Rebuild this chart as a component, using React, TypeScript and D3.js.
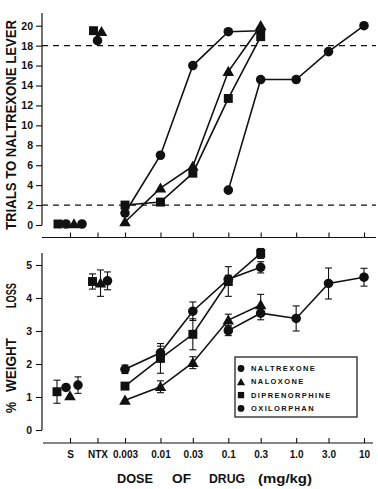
import React, { useEffect, useRef } from "react";
import * as d3 from "d3";

const W = 378;
const H = 489;

// drugs, in legend order
const drugNames = ["NALTREXONE", "NALOXONE", "DIPRENORPHINE", "OXILORPHAN"];
const drugMarkers = ["circle", "triangle", "square", "circle"];

// x axis categories
const tickLabels = ["S", "NTX", "0.003", "0.01", "0.03", "0.1", "0.3", "1.0", "3.0", "10"];
const doseLow = [0.003, 0.01, 0.03, 0.1, 0.3];
const doseHigh = [0.1, 0.3, 1, 3, 10];

// top panel: trials to naltrexone lever
const trialCriteria = [2, 18];
const trialsSaline = [0.1, 0.1, 0.1, 0.1];
const trialsNtx = [18.5, 19.4, 19.5, null];
const naltrexoneTrials = [1.2, 7.0, 16.0, 19.4, 19.5];
const naloxoneTrials = [0.3, 3.7, 5.9, 15.4, 20.0];
const diprenorphineTrials = [2.0, 2.3, 5.2, 12.7, 18.9];
const oxilorphanTrials = [3.5, 14.6, 14.6, 17.4, 20.0];

// bottom panel: % weight loss (mean, sem)
const weightSaline = [1.29, 1.03, 1.16, 1.36];
const weightSalineErr = [0, 0, 0.35, 0.25];
const weightNtx = [4.52, 4.45, 4.5, null];
const weightNtxErr = [0.27, 0.4, 0.23, 0];
const naltrexoneWeight = [1.84, 2.34, 3.6, 4.57, 4.93];
const naltrexoneWeightErr = [0.13, 0.2, 0.28, 0.12, 0.17];
const naloxoneWeight = [0.9, 1.31, 2.04, 3.33, 3.79];
const naloxoneWeightErr = [0, 0.18, 0.18, 0.18, 0.32];
const diprenorphineWeight = [1.33, 2.17, 2.9, 4.5, 5.35];
const diprenorphineWeightErr = [0, 0.45, 0.47, 0.45, 0.15];
const oxilorphanWeight = [3.01, 3.54, 3.38, 4.44, 4.63];
const oxilorphanWeightErr = [0.15, 0.2, 0.38, 0.47, 0.27];

const FONT = "'Liberation Sans', Arial, Helvetica, sans-serif";

const App = () => {
  const ref = useRef<SVGSVGElement>(null);

  useEffect(() => {
    const svg = d3.select(ref.current);
    svg.selectAll("*").remove();

    const xLog = d3.scaleLog().domain([0.003, 10]).range([125, 364]);
    const xCtrl = d3.scalePoint<string>().domain(["S", "NTX", "0.003"]).range([70, 125]);
    const xPos = (lab: string) =>
      lab === "S" || lab === "NTX" ? (xCtrl(lab) as number) : xLog(+lab);
    const xOrd = d3.scaleOrdinal<string, number>(tickLabels, tickLabels.map(xPos));

    const yTrials = d3.scaleLinear().domain([0, 20]).range([225, 25.7]);
    const yWeight = d3.scaleLinear().domain([0, 5]).range([430, 265]);

    const symbolType: any = {
      circle: d3.symbolCircle,
      square: d3.symbolSquare,
      triangle: d3.symbolTriangle,
    };
    const symbolSize: any = { circle: 72, square: 80, triangle: 58 };

    const marker = (g: any, shape: string, cx: number, cy: number, scale = 1) => {
      const dy = shape === "triangle" ? 1 : 0;
      g.append("path")
        .attr("d", d3.symbol(symbolType[shape], symbolSize[shape] * scale)())
        .attr("transform", `translate(${cx},${cy + dy})`)
        .attr("fill", "#111");
    };

    const line = d3.line<[number, number]>().x(d => d[0]).y(d => d[1]);

    const errBar = (g: any, cx: number, y0: number, y1: number) => {
      g.append("line").attr("x1", cx).attr("x2", cx).attr("y1", y0).attr("y2", y1)
        .attr("stroke", "#111").attr("stroke-width", 1.1);
      [y0, y1].forEach(y =>
        g.append("line").attr("x1", cx - 3.5).attr("x2", cx + 3.5).attr("y1", y).attr("y2", y)
          .attr("stroke", "#111").attr("stroke-width", 1.1));
    };

    // ---------- axes ----------
    const axisFont = (g: any, size: number) =>
      g.attr("font-family", FONT).attr("font-size", size).attr("font-weight", "bold");

    // top y axis
    const gyTop = svg.append("g").attr("transform", "translate(42,0)")
      .call(d3.axisLeft(yTrials).tickValues(d3.range(0, 21, 2)).tickSize(6).tickPadding(3));
    gyTop.select(".domain").remove();
    axisFont(gyTop, 10.5);
    svg.append("line").attr("x1", 42).attr("x2", 42).attr("y1", 13).attr("y2", 225)
      .attr("stroke", "#111").attr("stroke-width", 1.2);

    // bottom y axis
    const gyBot = svg.append("g").attr("transform", "translate(42,0)")
      .call(d3.axisLeft(yWeight).tickValues(d3.range(0, 6)).tickFormat(d3.format("d"))
        .tickSize(6).tickPadding(4));
    gyBot.select(".domain").remove();
    axisFont(gyBot, 10.5);
    svg.append("line").attr("x1", 42).attr("x2", 42).attr("y1", 253).attr("y2", 430)
      .attr("stroke", "#111").attr("stroke-width", 1.2);

    // top x axis (ticks only)
    const gxTop = svg.append("g").attr("transform", "translate(0,237.5)")
      .call(d3.axisBottom(xOrd).tickSize(-5).tickFormat(() => ""));
    gxTop.select(".domain").remove();
    svg.append("line").attr("x1", 42).attr("x2", 376).attr("y1", 237.5).attr("y2", 237.5)
      .attr("stroke", "#111").attr("stroke-width", 1.2);

    // bottom x axis
    const gxBot = svg.append("g").attr("transform", "translate(0,443)")
      .call(d3.axisBottom(xOrd).tickSize(-5).tickPadding(8));
    gxBot.select(".domain").remove();
    axisFont(gxBot, 10);
    svg.append("line").attr("x1", 43).attr("x2", 373).attr("y1", 443).attr("y2", 443)
      .attr("stroke", "#111").attr("stroke-width", 1.2);

    svg.selectAll(".tick line").attr("stroke", "#111").attr("stroke-width", 1.1);
    svg.selectAll(".tick text").attr("fill", "#111");

    // ---------- titles ----------
    svg.append("text")
      .attr("transform", "translate(16,125) rotate(-90)")
      .attr("text-anchor", "middle")
      .attr("font-family", FONT).attr("font-size", 14).attr("font-weight", "bold")
      .attr("textLength", 210).attr("lengthAdjust", "spacingAndGlyphs")
      .attr("fill", "#111")
      .text("TRIALS TO NALTREXONE LEVER");

    const wt = svg.append("text")
      .attr("transform", "translate(15.5,0) rotate(-90)")
      .attr("font-family", FONT).attr("font-size", 14).attr("font-weight", "bold")
      .attr("fill", "#111");
    [["%", -413, 11], ["WEIGHT", -392, 54], ["LOSS", -308, 25]].forEach(([t, x, len]) =>
      wt.append("tspan").attr("x", x).attr("textLength", len)
        .attr("lengthAdjust", "spacingAndGlyphs").text(t as string));

    const xt = svg.append("text")
      .attr("y", 483)
      .attr("font-family", FONT).attr("font-size", 13).attr("font-weight", "bold")
      .attr("fill", "#111");
    [["DOSE", 117, 36], ["OF", 172, 19], ["DRUG", 209, 36], ["(mg/kg)", 258, 54]].forEach(([t, x, len]) =>
      xt.append("tspan").attr("x", x).attr("textLength", len)
        .attr("lengthAdjust", "spacingAndGlyphs").text(t as string));

    // ---------- top panel ----------
    const top = svg.append("g");
    trialCriteria.forEach(v =>
      top.append("line").attr("x1", 42).attr("x2", 376)
        .attr("y1", yTrials(v)).attr("y2", yTrials(v))
        .attr("stroke", "#111").attr("stroke-width", 1.2).attr("stroke-dasharray", "6,5"));

    const trialSeries = [
      { i: 0, x: doseLow, y: naltrexoneTrials },
      { i: 1, x: doseLow, y: naloxoneTrials },
      { i: 2, x: doseLow, y: diprenorphineTrials },
      { i: 3, x: doseHigh, y: oxilorphanTrials },
    ];
    trialSeries.forEach(s => {
      const pts = s.x.map((d, k) => [xLog(d), yTrials(s.y[k])] as [number, number]);
      top.append("path").attr("d", line(pts)).attr("fill", "none")
        .attr("stroke", "#111").attr("stroke-width", 1.6);
    });
    trialSeries.forEach(s => {
      s.x.forEach((d, k) => marker(top, drugMarkers[s.i], xLog(d), yTrials(s.y[k])));
    });
    const topSalineOff = [-4, 4, -12, 12];
    const topNtxOff = [0, 4, -4, 0];
    trialsSaline.forEach((v, i) => marker(top, drugMarkers[i], xPos("S") + topSalineOff[i], yTrials(v)));
    trialsNtx.forEach((v, i) => {
      if (v != null) marker(top, drugMarkers[i], xPos("NTX") + topNtxOff[i], yTrials(v));
    });

    // ---------- bottom panel ----------
    const bot = svg.append("g");
    const weightSeries = [
      { i: 0, x: doseLow, y: naltrexoneWeight, e: naltrexoneWeightErr },
      { i: 1, x: doseLow, y: naloxoneWeight, e: naloxoneWeightErr },
      { i: 2, x: doseLow, y: diprenorphineWeight, e: diprenorphineWeightErr },
      { i: 3, x: doseHigh, y: oxilorphanWeight, e: oxilorphanWeightErr },
    ];
    weightSeries.forEach(s => {
      const pts = s.x.map((d, k) => [xLog(d), yWeight(s.y[k])] as [number, number]);
      bot.append("path").attr("d", line(pts)).attr("fill", "none")
        .attr("stroke", "#111").attr("stroke-width", 1.6);
    });
    weightSeries.forEach(s => {
      s.x.forEach((d, k) => {
        if (s.e[k] > 0) errBar(bot, xLog(d), yWeight(s.y[k] + s.e[k]), yWeight(s.y[k] - s.e[k]));
      });
    });
    weightSeries.forEach(s => {
      s.x.forEach((d, k) => marker(bot, drugMarkers[s.i], xLog(d), yWeight(s.y[k])));
    });
    const botSalineOff = [-4, 0, -13, 8];
    const botNtxOff = [10, 3, -5, 0];
    weightSaline.forEach((v, i) => {
      const cx = xPos("S") + botSalineOff[i];
      if (weightSalineErr[i] > 0) errBar(bot, cx, yWeight(v + weightSalineErr[i]), yWeight(v - weightSalineErr[i]));
      marker(bot, drugMarkers[i], cx, yWeight(v));
    });
    weightNtx.forEach((v, i) => {
      if (v == null) return;
      const cx = xPos("NTX") + botNtxOff[i];
      if (weightNtxErr[i] > 0) errBar(bot, cx, yWeight(v + weightNtxErr[i]), yWeight(v - weightNtxErr[i]));
      marker(bot, drugMarkers[i], cx, yWeight(v));
    });

    // ---------- legend ----------
    const lg = svg.append("g");
    lg.append("rect").attr("x", 235).attr("y", 357).attr("width", 122).attr("height", 60)
      .attr("fill", "white").attr("stroke", "#111").attr("stroke-width", 1.2);
    drugNames.forEach((name, i) => {
      const y = 368.5 + i * 13.3;
      marker(lg, drugMarkers[i], 241, y, 0.5);
      lg.append("text").attr("x", 251).attr("y", y).attr("dy", "0.35em")
        .attr("font-family", FONT).attr("font-size", 7.5).attr("font-weight", "bold")
        .attr("letter-spacing", 1.4).attr("fill", "#111")
        .text(name);
    });
  }, []);

  return (
    <svg
      ref={ref}
      width={W}
      height={H}
      style={{ position: "absolute", left: 0, top: 0, background: "white" }}
    />
  );
};

export default App;
